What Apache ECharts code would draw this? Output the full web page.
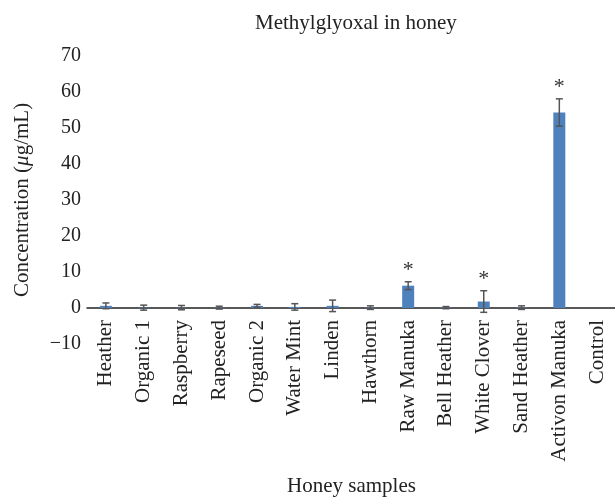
<!DOCTYPE html>
<html>
<head>
<meta charset="utf-8">
<script src="https://cdn.jsdelivr.net/npm/echarts@6/dist/echarts.min.js"></script>
<style>
  html, body { margin: 0; padding: 0; background: #fff; }
  #main { width: 615px; height: 497px; }
</style>
</head>
<body>
<div id="main"></div>
<script>
var categories = ['Heather', 'Organic 1', 'Raspberry', 'Rapeseed', 'Organic 2', 'Water Mint', 'Linden',
    'Hawthorn', 'Raw Manuka', 'Bell Heather', 'White Clover', 'Sand Heather', 'Activon Manuka', 'Control'];
var means = [0.6, 0.1, 0.1, 0.1, 0.6, 0.3, 0.6, 0.1, 6.2, 0.1, 1.8, 0.1, 54.3, 0];
var errors = [0.8, 0.7, 0.6, 0.4, 0.4, 0.9, 1.6, 0.5, 1.1, 0.3, 3.0, 0.5, 3.8, 0];
var significant = [0, 0, 0, 0, 0, 0, 0, 0, 1, 0, 1, 0, 1, 0];

var serif = '"Liberation Serif", "DejaVu Serif", serif';

var errorData = categories.map(function (c, i) {
    return [i, means[i] - errors[i], means[i] + errors[i], significant[i]];
});

var chartDom = document.getElementById('main');
var myChart = echarts.init(chartDom);

var option = {
    animation: false,
    title: {
        text: 'Methylglyoxal in honey',
        left: 250,
        top: 8,
        textStyle: { fontFamily: serif, fontSize: 21, fontWeight: 'normal', color: '#222' }
    },
    grid: { left: 87, right: -1, top: 56, bottom: 153, containLabel: false, outerBoundsMode: 'none' },
    xAxis: {
        type: 'category',
        data: categories,
        name: 'Honey samples',
        nameLocation: 'middle',
        nameGap: 132,
        nameTextStyle: { fontFamily: serif, fontSize: 21, color: '#222' },
        axisLine: { onZero: true, lineStyle: { color: '#222', width: 1.5 } },
        axisTick: { show: false },
        axisLabel: { rotate: 90, interval: 0, margin: -24, fontFamily: serif, fontSize: 21, color: '#222' }
    },
    yAxis: {
        type: 'value',
        min: -10,
        max: 70,
        interval: 10,
        name: 'Concentration ({i|μ}g/mL)',
        nameLocation: 'middle',
        nameGap: 54,
        nameTextStyle: {
            fontFamily: serif, fontSize: 21, color: '#222',
            rich: { i: { fontFamily: serif, fontSize: 21, fontStyle: 'italic', color: '#222' } }
        },
        axisLine: { show: false },
        axisTick: { show: false },
        splitLine: { show: false },
        axisLabel: {
            margin: 6, fontFamily: serif, fontSize: 20, color: '#222',
            formatter: function (v) { return v < 0 ? '\u2212' + Math.abs(v) : v; }
        }
    },
    series: [
        {
            type: 'bar',
            data: means,
            barWidth: 12,
            itemStyle: { color: '#4F81BD' }
        },
        {
            type: 'custom',
            data: errorData,
            z: 10,
            renderItem: function (params, api) {
                var x = api.value(0);
                var lo = api.coord([x, api.value(1)]);
                var hi = api.coord([x, api.value(2)]);
                var half = 3.5;
                var style = { stroke: '#555', lineWidth: 1.5 };
                var children = [];
                if (api.value(2) - api.value(1) > 0) {
                    children.push(
                        { type: 'line', shape: { x1: hi[0], y1: hi[1], x2: lo[0], y2: lo[1] }, style: style },
                        { type: 'line', shape: { x1: hi[0] - half, y1: hi[1], x2: hi[0] + half, y2: hi[1] }, style: style },
                        { type: 'line', shape: { x1: lo[0] - half, y1: lo[1], x2: lo[0] + half, y2: lo[1] }, style: style }
                    );
                }
                if (api.value(3)) {
                    children.push({
                        type: 'text',
                        style: {
                            text: '*', x: hi[0], y: hi[1] - 1,
                            textAlign: 'center', textVerticalAlign: 'bottom',
                            font: '22px ' + serif, fill: '#333'
                        }
                    });
                }
                return { type: 'group', children: children };
            }
        }
    ]
};
myChart.setOption(option);
</script>
</body>
</html>
